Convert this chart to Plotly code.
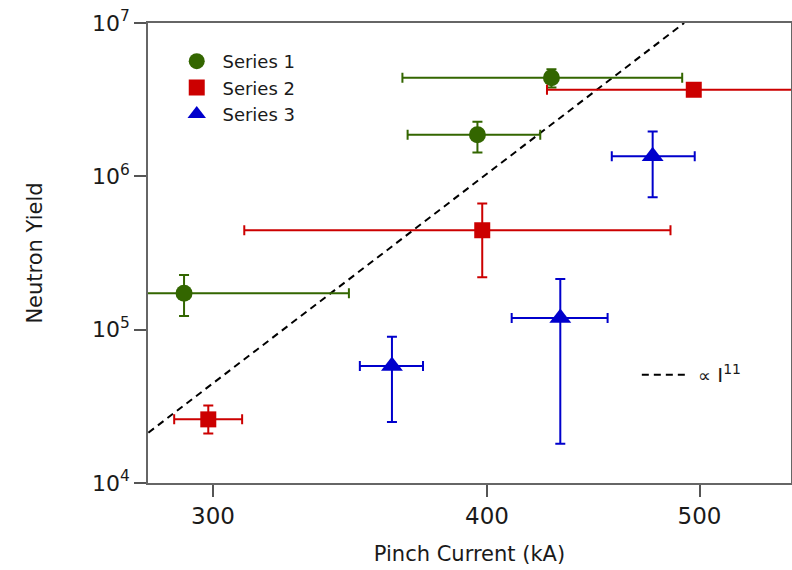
import plotly.graph_objects as go

# ---- data ----
s1_current = [291, 396, 428]
s1_cur_minus = [60, 28, 62]
s1_cur_plus = [55, 27, 63]
s1_yield = [1.73e5, 1.87e6, 4.4e6]
s1_y_plus = [0.54e5, 0.40e6, 0.6e6]
s1_y_minus = [0.50e5, 0.44e6, 0.6e6]

s2_current = [298.5, 398, 497]
s2_cur_minus = [10.5, 88, 71]
s2_cur_plus = [10.8, 87, 120]
s2_yield = [2.6e4, 4.45e5, 3.67e6]
s2_y_plus = [0.6e4, 2.2e5, 0]
s2_y_minus = [0.5e4, 2.25e5, 0]

s3_current = [362, 432, 476]
s3_cur_minus = [12, 21.5, 20]
s3_cur_plus = [12, 22, 21.5]
s3_yield = [5.8e4, 1.19e5, 1.35e6]
s3_y_plus = [3.2e4, 0.95e5, 0.61e6]
s3_y_minus = [3.3e4, 1.01e5, 0.62e6]

fit_current = [280.3, 492]
fit_yield = [2.13e4, 1.0e7]

xtick_vals = [300, 400, 500]
ytick_vals = [1e4, 1e5, 1e6, 1e7]
ytick_text = ["10<sup>4</sup>", "10<sup>5</sup>", "10<sup>6</sup>", "10<sup>7</sup>"]

FONT = "DejaVu Sans"
TXT = "#1a1a1a"
GREEN = "#336600"
RED = "#cc0000"
BLUE = "#0000cc"
PAD = "\u00a0"

fig = go.Figure()

fig.add_trace(go.Scatter(
    x=fit_current, y=fit_yield, mode="lines",
    line=dict(color="black", width=2, dash="7px,5px"), showlegend=False))

def series(name, x, xm, xp, y, ym, yp, color, symbol, size):
    fig.add_trace(go.Scatter(
        x=x, y=y, mode="markers", name=PAD + name,
        marker=dict(color=color, symbol=symbol, size=size, line=dict(width=0)),
        error_x=dict(type="data", array=xp, arrayminus=xm, color=color, thickness=2, width=5),
        error_y=dict(type="data", array=yp, arrayminus=ym, color=color, thickness=2, width=5),
    ))

series("Series 1", s1_current, s1_cur_minus, s1_cur_plus, s1_yield, s1_y_minus, s1_y_plus, GREEN, "circle", 17)
series("Series 2", s2_current, s2_cur_minus, s2_cur_plus, s2_yield, s2_y_minus, s2_y_plus, RED, "square", 16)
series("Series 3", s3_current, s3_cur_minus, s3_cur_plus, s3_yield, s3_y_minus, s3_y_plus, BLUE, "triangle-up", 19)

# key for the power-law line
fig.add_shape(type="line", xref="paper", yref="paper",
              x0=0.768, x1=0.8355, y0=0.2351, y1=0.2351,
              line=dict(color="black", width=2, dash="7px,5px"))
fig.add_annotation(xref="paper", yref="paper", x=0.853, y=0.236,
                   text="<span style='font-size:18px'>∝</span>\u00a0I<sup>11</sup>",
                   showarrow=False, xanchor="left", yanchor="middle",
                   font=dict(family=FONT, size=20, color=TXT))

fig.update_layout(
    width=792, height=570,
    margin=dict(l=148, r=1, t=23, b=87),
    paper_bgcolor="white", plot_bgcolor="white",
    font=dict(family=FONT, color=TXT),
    legend=dict(x=0.0447, y=0.9566, xanchor="left", yanchor="top",
                font=dict(family=FONT, size=18, color=TXT),
                bgcolor="rgba(0,0,0,0)", itemsizing="trace", tracegroupgap=0),
    xaxis=dict(type="log", range=[2.44745, 2.7407], automargin=False,
               tickvals=xtick_vals, ticktext=[str(v) for v in xtick_vals],
               ticks="outside", ticklen=12, tickcolor="#555", tickwidth=1.5,
               showline=True, linecolor="#666", linewidth=1.5, mirror=True,
               showgrid=False, zeroline=False,
               tickfont=dict(family=FONT, size=23, color=TXT),
               title=dict(text="Pinch Current (kA)", font=dict(family=FONT, size=21, color=TXT), standoff=18)),
    yaxis=dict(type="log", range=[4, 7], automargin=False,
               tickvals=ytick_vals, ticktext=ytick_text, ticklabeloverflow="allow",
               ticks="outside", ticklen=12, tickcolor="#555", tickwidth=1.5,
               showline=True, linecolor="#666", linewidth=1.5, mirror=True,
               showgrid=False, zeroline=False,
               tickfont=dict(family=FONT, size=22, color=TXT),
               title=dict(text="Neutron Yield", font=dict(family=FONT, size=21, color=TXT), standoff=44)),
)

fig.write_html("out.html", config={"displayModeBar": False},
               post_script="document.body.style.margin='0px';")
